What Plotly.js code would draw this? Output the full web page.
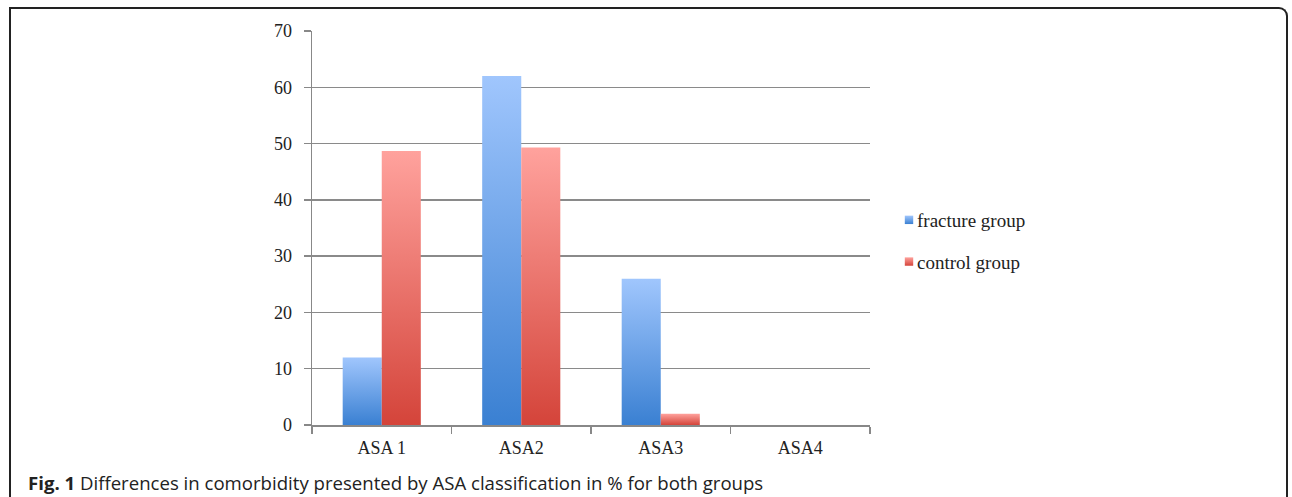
<!DOCTYPE html>
<html>
<head>
<meta charset="utf-8">
<script src="https://cdn.plot.ly/plotly-3.0.1.min.js"></script>
<style>
  html, body { margin: 0; padding: 0; background: #fff; }
  #wrap { position: relative; width: 1292px; height: 497px; overflow: hidden; }
  #frame { position: absolute; left: 9px; top: 7px; width: 1279px; height: 500px;
           border-top: 2px solid #222; border-left: 2px solid #222; border-right: 2px solid #222;
           border-top-right-radius: 9px; box-sizing: border-box; pointer-events: none; }
  #chart { position: absolute; left: 0; top: 0; width: 1292px; height: 497px; }
</style>
</head>
<body>
<div id="wrap">
  <div id="chart"></div>
  <div id="frame"></div>
</div>
<script>
const categories = ["ASA 1", "ASA2", "ASA3", "ASA4"];
const fractureGroup = [12, 62, 26, 0];
const controlGroup = [48.7, 49.3, 2, 0];
const yTicks = [0, 10, 20, 30, 40, 50, 60, 70];
const seriesNames = ["fracture group", "control group"];

const serif = "Liberation Serif, DejaVu Serif, serif";

const traces = [
  { type: "bar", name: seriesNames[0], x: categories, y: fractureGroup,
    marker: { color: "#6aa3ec", line: { width: 0 } }, legendgroup: "a" },
  { type: "bar", name: seriesNames[1], x: categories, y: controlGroup,
    marker: { color: "#ec7670", line: { width: 0 } }, legendgroup: "b" }
];

const layout = {
  width: 1292, height: 497,
  margin: { l: 312, r: 422, t: 31, b: 72, pad: 0 },
  paper_bgcolor: "#fff", plot_bgcolor: "#fff",
  barmode: "group", bargap: 0.44, bargroupgap: 0,
  font: { family: serif, color: "#222", size: 18 },
  xaxis: {
    type: "category", showgrid: false, showline: true, linecolor: "#888", linewidth: 1.5,
    ticks: "outside", tickson: "boundaries", ticklen: 7, tickcolor: "#888", tickwidth: 1.5,
    ticklabelstandoff: 6,
    tickfont: { family: serif, size: 18, color: "#222" }, zeroline: false
  },
  yaxis: {
    range: [0, 70], tickvals: yTicks, ticktext: yTicks.map(String),
    showgrid: true, gridcolor: "#8a8a8a", gridwidth: 1.5,
    showline: true, linecolor: "#888", linewidth: 1.5,
    ticks: "outside", ticklen: 7, tickcolor: "#888", tickwidth: 1.5,
    ticklabelstandoff: 8,
    tickfont: { family: serif, size: 18, color: "#222" }, zeroline: false
  },
  showlegend: true,
  legend: {
    x: (877 - 312) / 558, xanchor: "left", y: 0.467, yanchor: "middle",
    font: { family: serif, size: 19, color: "#222" },
    tracegroupgap: 14, itemwidth: 30, bgcolor: "rgba(0,0,0,0)", borderwidth: 0
  },
  annotations: [{
    xref: "paper", yref: "paper", x: -286 / 558, y: -57 / 394,
    xanchor: "left", yanchor: "middle", showarrow: false,
    text: "<b>Fig. 1</b> Differences in comorbidity presented by ASA classification in % for both groups",
    font: { family: "Open Sans, Noto Sans, sans-serif", size: 18.6, color: "#222" }
  }]
};

Plotly.newPlot("chart", traces, layout, { staticPlot: true, displayModeBar: false }).then(function (gd) {
  const svg = gd.querySelector("svg.main-svg");
  const ns = "http://www.w3.org/2000/svg";
  let defs = svg.querySelector("defs");
  if (!defs) { defs = document.createElementNS(ns, "defs"); svg.insertBefore(defs, svg.firstChild); }
  function grad(id, top, bottom) {
    const g = document.createElementNS(ns, "linearGradient");
    g.setAttribute("id", id); g.setAttribute("x1", "0"); g.setAttribute("y1", "0");
    g.setAttribute("x2", "0"); g.setAttribute("y2", "1");
    const s1 = document.createElementNS(ns, "stop"); s1.setAttribute("offset", "0"); s1.setAttribute("stop-color", top);
    const s2 = document.createElementNS(ns, "stop"); s2.setAttribute("offset", "1"); s2.setAttribute("stop-color", bottom);
    g.appendChild(s1); g.appendChild(s2); defs.appendChild(g);
  }
  grad("gBlue", "#a0c6fd", "#3a80d2");
  grad("gRed", "#ffa29d", "#d4443a");
  const ids = ["gBlue", "gRed"];
  gd.querySelectorAll(".barlayer .trace").forEach(function (t, i) {
    t.querySelectorAll("path").forEach(function (p) { p.style.fill = "url(#" + ids[i] + ")"; });
  });
  gd.querySelectorAll(".legend .traces").forEach(function (t, i) {
    t.querySelectorAll(".legendpoints path").forEach(function (p) {
      p.style.fill = "url(#" + ids[i] + ")";
      p.setAttribute("transform", "translate(32,0) scale(0.7)");
    });
  });
});
</script>
</body>
</html>
